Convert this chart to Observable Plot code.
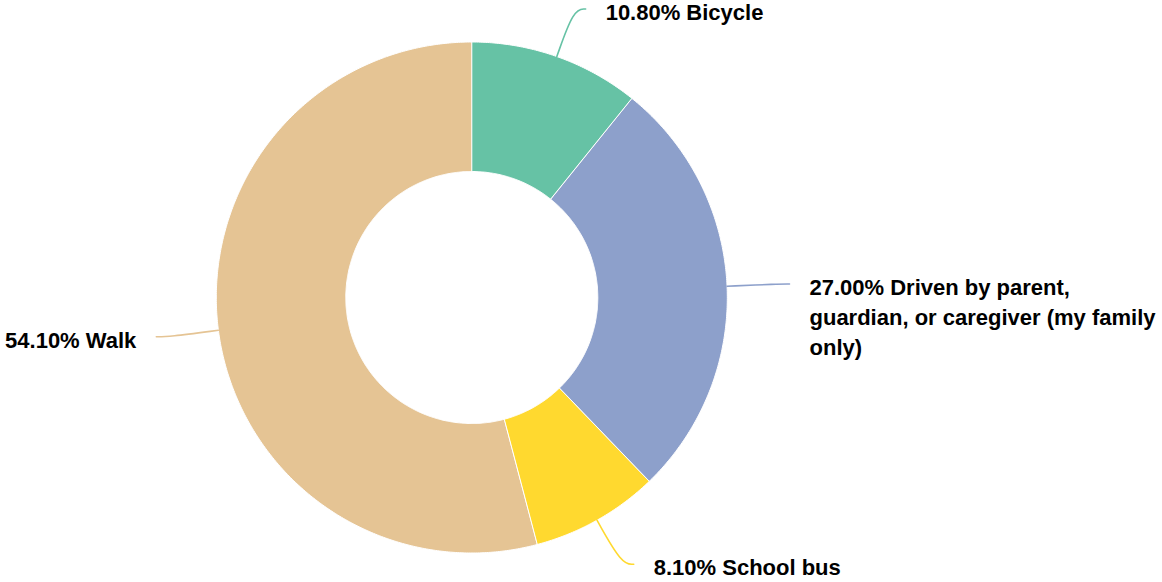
<!DOCTYPE html>
<html><head><meta charset="utf-8">
<script src="https://cdn.jsdelivr.net/npm/d3@7"></script>
<script src="https://cdn.jsdelivr.net/npm/@observablehq/plot@0.6"></script>
<style>html,body{margin:0;padding:0;background:#fff;} #chart{width:1162px;height:582px;}</style>
</head><body><div id="chart"></div>
<script>
// ---- data ----
const categories = ["Bicycle", "Driven by parent, guardian, or caregiver (my family only)", "School bus", "Walk"];
const labelLines = ["Bicycle", "Driven by parent,\nguardian, or caregiver (my family\nonly)", "School bus", "Walk"];
const values = [10.8, 27.0, 8.1, 54.1];
const colors = ["#66c2a5", "#8da0cb", "#ffd92f", "#e5c494"];

// ---- layout ----
const W = 1162, H = 582;
const cx = 471.3, cy = 297, rOuter = 255.5, rInner = 126, rCorner = 306, hook = 12, gap = 20;
const total = d3.sum(values);
let acc = 0;
const slices = categories.map((c, i) => {
  const a0 = acc / total * 2 * Math.PI; acc += values[i];
  const a1 = acc / total * 2 * Math.PI;
  return {c, i, a0, a1};
});
const pt = (r, a) => [cx + r * Math.sin(a), cy - r * Math.cos(a)];

const arcPts = [];
for (const s of slices) {
  const n = Math.max(2, Math.ceil((s.a1 - s.a0) / (Math.PI / 360)));
  for (let k = 0; k <= n; k++) { const [x, y] = pt(rOuter, s.a0 + (s.a1 - s.a0) * k / n); arcPts.push({cat: s.c, x, y}); }
  for (let k = n; k >= 0; k--) { const [x, y] = pt(rInner, s.a0 + (s.a1 - s.a0) * k / n); arcPts.push({cat: s.c, x, y}); }
}

const leaderPts = [];
const labels = [];
for (const s of slices) {
  const am = (s.a0 + s.a1) / 2;
  const side = Math.sin(am) >= 0 ? 1 : -1;
  const [x0, y0] = pt(rOuter, am);
  const [x1, y1] = pt(rCorner, am);
  const x2 = x1 + side * hook, y2 = y1;
  leaderPts.push({cat: s.c, x: x0, y: y0}, {cat: s.c, x: x1, y: y1}, {cat: s.c, x: x2, y: y2});
  labels.push({cat: s.c, side, x: x2 + side * gap, y: y2, text: `${values[s.i].toFixed(2)}% ${labelLines[s.i]}`});
}

const textOpts = {x: "x", y: "y", text: "text", lineAnchor: "top", dy: -10, fontSize: 22, fontWeight: "bold",
  lineHeight: 1.36, fill: "#000", fontFamily: "'Liberation Sans', Arial, Helvetica, sans-serif"};

const chart = Plot.plot({
  width: W, height: H, margin: 0,
  style: {fontFamily: "'Liberation Sans', Arial, Helvetica, sans-serif", background: "#fff"},
  x: {domain: [0, W], range: [0, W], axis: null},
  y: {domain: [0, H], range: [0, H], axis: null},
  color: {domain: categories, range: colors},
  marks: [
    Plot.line(arcPts, {x: "x", y: "y", z: "cat", fill: "cat", stroke: "#fff", strokeWidth: 1, curve: "linear-closed"}),
    Plot.line(leaderPts, {x: "x", y: "y", z: "cat", stroke: "cat", strokeWidth: 1.6, curve: "basis"}),
    Plot.text(labels.filter(d => d.side > 0), {...textOpts, textAnchor: "start"}),
    Plot.text(labels.filter(d => d.side < 0), {...textOpts, textAnchor: "end"})
  ]
});
document.getElementById("chart").append(chart);
</script>
</body></html>
